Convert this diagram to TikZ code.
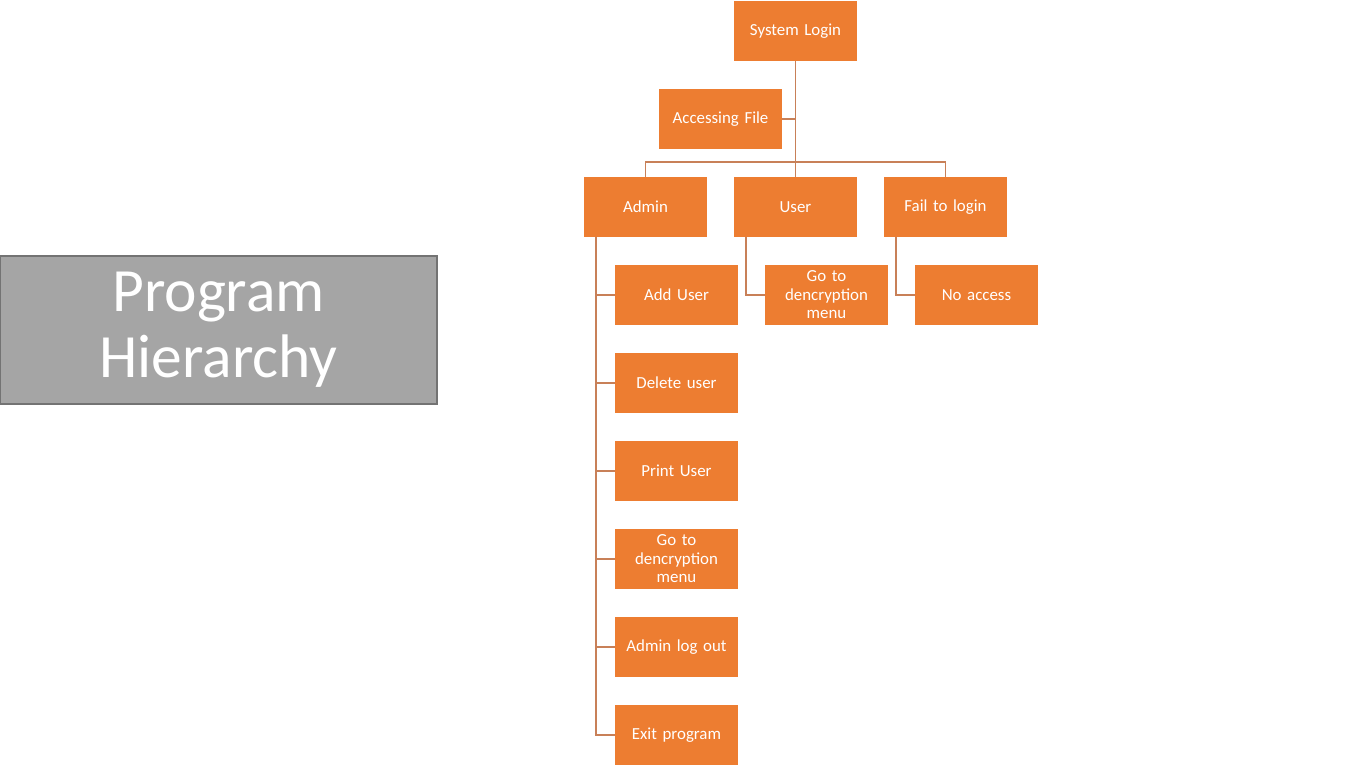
\documentclass[tikz,border=0pt]{standalone}
\usepackage{fontspec}
\setmainfont{Carlito}
\usepackage{tikz}
\usetikzlibrary{positioning}
\definecolor{hierorange}{RGB}{237, 125, 49}
\definecolor{hiergray}{RGB}{165, 165, 165}
\definecolor{hierline}{RGB}{200, 128, 88}

\begin{document}
\begin{tikzpicture}[
    node distance=0.56cm and 0.54cm,
    every node/.style={font=\fontsize{9.6}{10.5}\selectfont, text=white},
    box/.style={rectangle, minimum width=2.46cm, minimum height=1.2cm, text width=2.2cm, align=center, fill=hierorange, inner sep=0pt, outer sep=0pt},
    title/.style={rectangle, minimum width=8.74cm, minimum height=2.96cm, align=center, fill=hiergray, draw=black!55, line width=0.6pt, font=\fontsize{35}{37.5}\selectfont},
    link/.style={draw=hierline, line width=0.6pt}
]
\useasboundingbox (0,0) rectangle (27.32,-15.36);

\node[title] (heading) at (4.37,-6.6) {\raisebox{-4pt}{Program}\\\raisebox{-4pt}{Hierarchy}};

\node[box] (login) at (15.91,-0.62) {System Login};
\node[box, below=of login, xshift=-1.5cm] (access) {Accessing File};
\node[box, below=of access, xshift=1.5cm] (user) {User};
\node[box, left=of user] (admin) {Admin};
\node[box, right=of user] (fail) {Fail to login};

\node[box, below=of admin, xshift=0.62cm] (adduser) {Add User};
\node[box, below=of adduser] (deluser) {Delete user};
\node[box, below=of deluser] (printuser) {Print User};
\node[box, below=of printuser] (admindec) {Go to\\dencryption\\menu};
\node[box, below=of admindec] (logout) {Admin log out};
\node[box, below=of logout] (exitprog) {Exit program};

\node[box, below=of user, xshift=0.62cm] (userdec) {Go to\\dencryption\\menu};
\node[box, below=of fail, xshift=0.62cm] (noaccess) {No access};

\draw[link] (login.south) -- (user.north);
\draw[link] (access.east) -- (access.east -| login.south);
\draw[link] (admin.north) -- ++(0,0.3) -| (fail.north);

\foreach \child in {adduser, deluser, printuser, admindec, logout, exitprog}
  \draw[link] ([xshift=0.24cm]admin.south west) |- (\child.west);
\draw[link] ([xshift=0.24cm]user.south west) |- (userdec.west);
\draw[link] ([xshift=0.24cm]fail.south west) |- (noaccess.west);

\end{tikzpicture}
\end{document}
